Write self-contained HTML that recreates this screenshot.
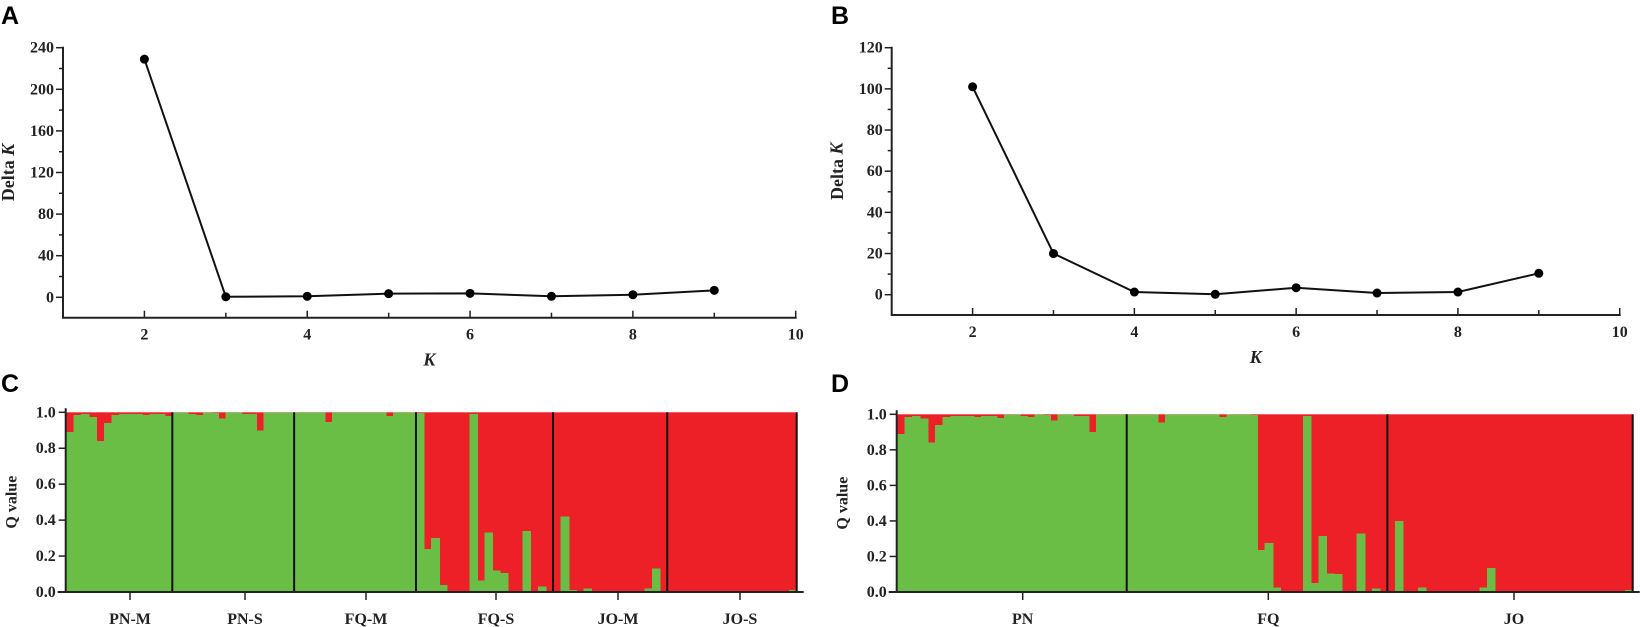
<!DOCTYPE html>
<html><head><meta charset="utf-8"><style>
html,body{margin:0;padding:0;background:#fff;}
svg{display:block;font-family:"Liberation Serif",serif;}
.tl{font-size:16px;font-weight:bold;fill:#222;}
.pl{font-family:"Liberation Sans",sans-serif;font-size:25px;font-weight:bold;fill:#000;}
.at{font-size:18px;font-weight:bold;fill:#222;}
</style></head><body>
<svg id="fig" width="1640" height="627" viewBox="0 0 1640 627">
<text class="pl" x="1" y="24">A</text>
<text class="pl" x="831" y="24">B</text>
<text class="pl" x="1" y="392">C</text>
<text class="pl" x="831" y="392">D</text>
<g id="gA"></g>
<g id="gB"></g>
<g id="gC"></g>
<g id="gD"></g>
</svg>
<script>
const kValues = [2,3,4,5,6,7,8,9];
const deltaA = [229,0.5,1,3.5,3.8,1,2.5,6.7];
const deltaB = [101,20,1.3,0.2,3.4,0.8,1.3,10.4];
const yTicksA = [0,40,80,120,160,200,240];
const yTicksB = [0,20,40,60,80,100,120];
const xTickLabels = [2,4,6,8,10];
const qTicks = ['0.0','0.2','0.4','0.6','0.8','1.0'];
const groupsC = ['PN-M','PN-S','FQ-M','FQ-S','JO-M','JO-S'];
const groupSizesC = [14,16,16,18,15,17];
const groupsD = ['PN','FQ','JO'];
const groupSizesD = [30,34,32];
const qGreenC = [
 0.89,0.985,0.99,0.975,0.84,0.94,0.985,0.99,0.99,0.99,0.985,0.99,0.99,0.98,
 1,1,0.99,0.985,1,0.995,0.965,1,1,0.99,0.99,0.90,1,1,1,1,
 1,1,1,1,0.945,1,1,1,1,1,1,1,0.98,1,1,1,
 0.995,0.24,0.30,0.04,0,0,0,0.99,0.065,0.33,0.12,0.105,0.003,0,0.34,0,0.03,0,
 0,0.42,0.01,0,0.02,0,0,0,0.005,0,0,0,0.02,0.13,0.005,
 0,0,0,0,0,0,0,0,0,0,0,0,0,0,0,0,0.01];
const qGreenD = [
 0.89,0.985,0.99,0.975,0.84,0.94,0.985,0.99,0.99,0.99,0.985,0.99,0.99,0.98,
 1,1,0.99,0.985,1,0.995,0.965,1,1,0.99,0.99,0.90,1,1,1,1,
 1,1,1,1,0.955,1,1,1,1,1,1,1,0.985,1,1,1,
 0.995,0.235,0.275,0.025,0,0,0,0.99,0.05,0.315,0.105,0.10,0.003,0,0.33,0,0.02,0,
 0,0.40,0.003,0,0.025,0,0,0,0.003,0,0,0,0.025,0.135,0.003,
 0,0,0,0,0,0,0,0,0,0,0,0,0,0,0,0,0.01];

const NS='http://www.w3.org/2000/svg';
function mk(p,tag,at){const e=document.createElementNS(NS,tag);for(const k in at)e.setAttribute(k,at[k]);p.appendChild(e);return e;}

function lineChart(g,x0,x1,yTop,yZero,axisY,ymax,ytick,data,yTicks,tag){
 const sx=k=>x0+(k-1)*(x1-x0)/9;
 const sy=v=>yZero-v*(yZero-yTop)/ymax;
 let a=mk(g,'line',{x1:x0,y1:yTop-1,x2:x0,y2:axisY,stroke:'#222','stroke-width':2});
 
 
 a=mk(g,'line',{x1:x0-1,y1:axisY,x2:x1+1,y2:axisY,stroke:'#222','stroke-width':2});
 
 
 for(let v=0;v<=ymax;v+=ytick/2){
  const y=sy(v), major=yTicks.includes(v);
  mk(g,'line',{x1:x0-(major?7:4),y1:y,x2:x0,y2:y,stroke:'#222','stroke-width':1.5});
 }
 yTicks.forEach(v=>{
  const t=mk(g,'text',{class:'tl',x:x0-9,y:sy(v)+5,'text-anchor':'end'});t.textContent=v;
  
  
 });
 for(let k=2;k<=10;k++){
  mk(g,'line',{x1:sx(k),y1:axisY,x2:sx(k),y2:axisY-(k%2===0?7:5),stroke:'#222','stroke-width':1.5});
 }
 xTickLabels.forEach(k=>{
  const t=mk(g,'text',{class:'tl',x:sx(k),y:axisY+22,'text-anchor':'middle'});t.textContent=k;
  
  
 });
 const xt=mk(g,'text',{class:'at',x:(x0+x1)/2,y:axisY+48,'text-anchor':'middle','font-style':'italic'});xt.textContent='K';
 
 
 const cy=(yTop+yZero)/2, cx=x0-53;
 const yt=mk(g,'text',{class:'at',x:cx,y:cy,'text-anchor':'middle',transform:`rotate(-90 ${cx} ${cy})`,'dominant-baseline':'middle'});
 yt.innerHTML='Delta <tspan font-style="italic">K</tspan>';
 
 
 const pts=kValues.map((k,i)=>sx(k)+','+sy(data[i])).join(' ');
 const pl=mk(g,'polyline',{points:pts,fill:'none',stroke:'#111','stroke-width':2});
 
 
 kValues.forEach((k,i)=>{
  const c=mk(g,'circle',{cx:sx(k),cy:sy(data[i]),r:4.5,fill:'#000'});
  
  
 });
}
lineChart(document.getElementById('gA'),63,795.7,47.7,297.3,317.7,240,40,deltaA,yTicksA,'a');
lineChart(document.getElementById('gB'),891.7,1619.7,47.7,294.7,315,120,20,deltaB,yTicksB,'b');

function qChart(g,x0,x1,yTop,yZero,groups,sizes,q,tickX,tag){
 const n=q.length, bw=(x1-x0)/n;
 const sy=v=>yZero-v*(yZero-yTop);
 const bx=i=>x0+i*bw;
 const bg=mk(g,'rect',{x:x0,y:yTop,width:x1-x0,height:yZero-yTop,fill:'#ed1f27'});
 
 
 q.forEach((v,i)=>{
  const w=(i===n-1)?bw:bw+1;
  const r=mk(g,'rect',{x:bx(i),y:sy(v),width:w,height:yZero-sy(v),fill:'#6abd45','shape-rendering':'crispEdges'});
  
  
 });
 let acc=0;
 sizes.forEach((s,gi)=>{
  acc+=s;
  const x=bx(acc);
  const d=mk(g,'line',{x1:x,y1:yTop,x2:x,y2:yZero,stroke:'#111','stroke-width':2});
  
  
 });
 let a=mk(g,'line',{x1:x0,y1:yTop-4,x2:x0,y2:yZero,stroke:'#222','stroke-width':2});
 
 
 a=mk(g,'line',{x1:x0-8,y1:yZero,x2:x1+7,y2:yZero,stroke:'#222','stroke-width':2});
 
 
 qTicks.forEach(s=>{
  const y=sy(parseFloat(s));
  mk(g,'line',{x1:x0-7,y1:y,x2:x0,y2:y,stroke:'#222','stroke-width':1.5});
  const t=mk(g,'text',{class:'tl',x:x0-10,y:y+5,'text-anchor':'end'});t.textContent=s;
  
  
 });
 groups.forEach((name,gi)=>{
  const x=tickX[gi];
  mk(g,'line',{x1:x,y1:yZero,x2:x,y2:yZero+8,stroke:'#222','stroke-width':1.5});
  const t=mk(g,'text',{class:'tl',x:x,y:yZero+32,'text-anchor':'middle'});t.textContent=name;
  
  
 });
 const cy=(yTop+yZero)/2, cx=x0-53;
 const yt=mk(g,'text',{class:'tl',x:cx,y:cy,'text-anchor':'middle',transform:`rotate(-90 ${cx} ${cy})`,'dominant-baseline':'middle'});
 yt.textContent='Q value';
 
 
}
qChart(document.getElementById('gC'),65.7,796.7,412.3,592,groupsC,groupSizesC,qGreenC,[130,245,366,496,618,740],'c');
qChart(document.getElementById('gD'),896.7,1632.7,414.3,592,groupsD,groupSizesD,qGreenD,[1022.7,1268.3,1514],'d');
</script>
</body></html>
